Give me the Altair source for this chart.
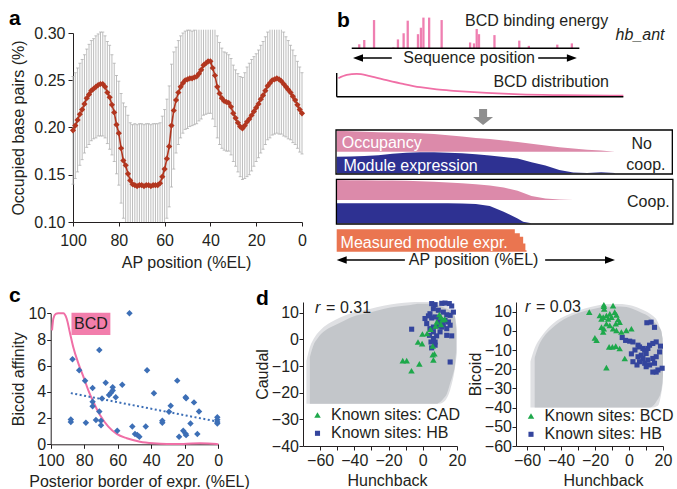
import altair as alt
import pandas as pd

FONT = "Liberation Sans"
INK = "#231f20"
W, H = 677, 489

# ================= panel a : occupied base pairs along AP axis =================
a_pos = list(range(100, -1, -1))
a_mean = [
    0.197, 0.202, 0.208, 0.214, 0.219, 0.225, 0.231, 0.235, 0.239, 0.241,
    0.243, 0.245, 0.246, 0.246, 0.243, 0.237, 0.232, 0.224, 0.216, 0.203,
    0.194, 0.178, 0.165, 0.160, 0.151, 0.144, 0.140, 0.139, 0.138, 0.139,
    0.139, 0.138, 0.139, 0.139, 0.138, 0.139, 0.139, 0.139, 0.141, 0.148,
    0.156, 0.167, 0.180, 0.202, 0.218, 0.229, 0.237, 0.243, 0.247, 0.250,
    0.251, 0.252, 0.252, 0.253, 0.254, 0.257, 0.261, 0.266, 0.268, 0.270,
    0.270, 0.263, 0.255, 0.243, 0.236, 0.231, 0.228, 0.227, 0.226, 0.222,
    0.215, 0.210, 0.205, 0.201, 0.199, 0.202, 0.206, 0.209, 0.213, 0.217,
    0.221, 0.225, 0.230, 0.234, 0.239, 0.244, 0.247, 0.250, 0.251, 0.252,
    0.251, 0.249, 0.246, 0.243, 0.240, 0.237, 0.233, 0.229, 0.224, 0.219,
    0.215]
a_sd = [
    0.057, 0.056, 0.055, 0.054, 0.053, 0.052, 0.052, 0.053, 0.053, 0.053,
    0.054, 0.054, 0.055, 0.055, 0.054, 0.054, 0.055, 0.053, 0.052, 0.052,
    0.055, 0.058, 0.061, 0.062, 0.062, 0.061, 0.063, 0.065, 0.065, 0.065,
    0.065, 0.065, 0.065, 0.065, 0.065, 0.065, 0.065, 0.065, 0.064, 0.064,
    0.063, 0.063, 0.064, 0.065, 0.062, 0.056, 0.055, 0.054, 0.053, 0.052,
    0.052, 0.051, 0.050, 0.050, 0.050, 0.050, 0.052, 0.053, 0.054, 0.055,
    0.055, 0.054, 0.054, 0.054, 0.054, 0.053, 0.052, 0.052, 0.051, 0.051,
    0.051, 0.051, 0.052, 0.053, 0.054, 0.056, 0.058, 0.059, 0.059, 0.058,
    0.057, 0.057, 0.057, 0.057, 0.057, 0.057, 0.058, 0.058, 0.058, 0.058,
    0.058, 0.056, 0.055, 0.053, 0.052, 0.050, 0.049, 0.047, 0.046, 0.045,
    0.043]

# ================= panel b : hb_ant schematic =================
seq_pos = [3.3, 5.5, 9.8, 18.3, 20.3, 22.8, 24.6, 29.1, 30.4, 31.5, 34.0,
           39.5, 52.0, 53.7, 54.9, 55.9, 62.7, 73.6, 77.8, 90.3, 96.7]
seq_energy = [1.3, 2.7, 9.2, 0.3, 2.9, 4.9, 9.0, 4.6, 6.7, 10.0, 10.0,
              9.2, 1.9, 1.6, 6.3, 4.6, 4.3, 2.5, 0.8, 1.2, 1.6]
bcd_ap = [0.6, 3.5, 7.0, 11.6, 17.4, 23.2, 29.1, 34.9, 40.7, 46.5, 52.3,
          58.1, 63.9, 75.6, 87.2, 100.0]
bcd_level = [0.78, 0.92, 0.96, 0.87, 0.70, 0.54, 0.40, 0.31, 0.25, 0.20, 0.16,
             0.13, 0.10, 0.07, 0.06, 0.04]
prof_ap = [0, 5, 10, 15, 20, 25, 30, 35, 40, 45, 50, 55, 60, 65, 70, 75, 80,
           85, 90, 95, 100]
occ_nocoop = [0.96, 0.94, 0.92, 0.90, 0.88, 0.87, 0.85, 0.82, 0.76, 0.70, 0.63,
              0.58, 0.52, 0.45, 0.37, 0.28, 0.21, 0.15, 0.09, 0.05, 0.0]
expr_nocoop = [0.79, 0.80, 0.82, 0.86, 0.93, 0.98, 1.0, 1.0, 0.98, 0.95, 0.91,
               0.85, 0.78, 0.70, 0.53, 0.37, 0.16, 0.04, 0.02, 0.05, 0.02]
occ_coop_ap = [0, 5, 10, 15, 20, 25, 30, 35, 40, 45, 50, 55, 60, 65, 70, 75, 80, 85]
occ_coop = [1.0, 0.99, 0.99, 0.98, 0.97, 0.96, 0.94, 0.91, 0.88, 0.84, 0.79,
            0.73, 0.62, 0.46, 0.20, 0.07, 0.03, 0.0]
expr_coop_ap = [0, 5, 10, 15, 20, 25, 30, 35, 40, 45, 50, 55, 60, 65, 67, 70]
expr_coop = [1.0, 1.0, 1.0, 1.0, 1.0, 1.0, 1.0, 1.0, 1.0, 0.99, 0.97, 0.87,
             0.58, 0.24, 0.08, 0.0]
meas_ap = [0, 62.9, 64.0, 65.8, 67.0, 67.8, 68.2]
meas_expr = [1.0, 1.0, 0.82, 0.67, 0.37, 0.07, 0.0]

# ================= panel c : affinity vs posterior border =================
c_border = [53, 87, 83, 71, 79.5, 75, 75, 75, 88, 88, 79, 73, 71, 70, 70, 69.4,
            67.2, 65.2, 64, 63, 63, 61.2, 60.3, 57.3, 51.3, 49.7, 48.3, 47.1,
            42.5, 43.3, 38.4, 33.4, 33.4, 28.4, 29.4, 24.5, 23.4, 19.5, 19.2,
            20.9, 19.5, 19.2, 14.5, 16.6, 11.5, 12.5, 0.6, 0.6, 0.6, 0.6]
c_affinity = [10.0, 6.5, 5.65, 7.2, 4.85, 4.3, 3.25, 2.9, 1.9, 1.7, 1.65, 1.85,
              2.5, 1.45, 1.8, 3.5, 4.7, 3.76, 3.94, 4.35, 4.1, 3.59, 1.04, 4.55,
              1.35, 0.79, 0.71, 0.58, 5.65, 1.35, 3.89, 1.8, 1.65, 2.95, 2.49,
              4.86, 0.58, 3.59, 3.52, 1.04, 0.8, 0.7, 3.2, 1.58, 2.5, 0.79, 2.07,
              1.87, 1.7, 1.58]
c_bcd_x = [99.2, 98.4, 97.0, 95.5, 92.5, 90.5, 88.5, 86.6, 83.5, 80.5, 77.6,
           74.6, 70.6, 65.6, 60.6, 54.6, 46.7, 38.8, 30.8, 20.8, 10.9, 1.0, 0.0]
c_bcd_y = [8.7, 9.6, 9.95, 10.0, 10.0, 9.6, 8.5, 7.45, 6.18, 5.16, 4.14, 3.25,
           2.24, 1.35, 0.79, 0.46, 0.2, 0.08, 0.03, 0.03, 0.08, 0.03, 0.0]

# ================= panel d : Hunchback vs Caudal / Bicoid scores =================
# dense core of the genome-wide score cloud
d1_cloud_hb = [-66, -64, -61, -57, -52, -46, -39, -31, -23, -15, -7, -2, 4, 8,
               10, 12, 14, 16, 17.5, 18.9, 19.5]
d1_cloud_lo = [-24.2, -24.2, -24.2, -24.2, -24.2, -24.2, -24.2, -24.2, -24.2,
               -24.2, -24.2, -24.2, -24.2, -24.2, -23.6, -22.3, -20.5, -16.5,
               -13.5, -9.2, -4.0]
d1_cloud_hi = [-6.7, -2.4, 0.8, 3.3, 5.1, 7.0, 8.9, 10.1, 11.4, 12.3, 12.9,
               13.3, 13.3, 13.0, 12.6, 12.0, 11.5, 10.8, 9.8, 8.3, 3.3]
# sparse outer fringe of the cloud
d1_fringe_hb = [-68, -66, -63, -59, -54, -48, -40, -31, -23, -15, -7, -2, 4, 9,
                13, 16, 18.5, 20]
d1_fringe_lo = [-24.2, -24.2, -24.2, -24.2, -24.2, -24.2, -24.2, -24.2, -24.2,
                -24.2, -24.2, -24.2, -24.2, -24.2, -23.0, -19.0, -12.0, -5.0]
d1_fringe_hi = [-8.0, -3.0, 1.0, 4.0, 6.3, 8.3, 10.2, 11.4, 12.6, 13.4, 13.9,
                14.0, 14.0, 13.9, 12.8, 11.5, 9.0, 4.0]
d1_cad_hb = [-11.7, -9.4, -6.6, -2.0, -2.8, -0.4, -0.2, 2.5, 4.5, 5.8, 6.8, 5.8,
             6.2, 8.2, 7.5, 9.7, 10.5, 11.5, 12.8, 10.6]
d1_cad_cdx = [-8.0, -8.0, -11.8, -9.2, -1.0, -1.6, 2.0, 2.2, 3.8, -2.5, -5.4,
              -5.8, -7.7, 6.5, 5.0, 9.3, 8.4, 7.4, 7.6, 5.6]
d1_hb_hb = [5.2, 7.2, 11.1, 13.0, 15.5, 16.9, 17.9, 16.0, 14.0, 12.0, 9.1, 6.2,
            4.2, 3.3, 5.2, 7.2, 9.7, 13.0, 15.0, 16.0, 12.0, 9.1, 6.2, 4.2, 2.3,
            -6.5, 6.2, 10.1, 8.1, 14.0, 16.9, 6.2, 7.2, 5.2, 7.2, 16.0, 9.1, 1.3,
            11.1, 14.0, 3.9, 4.8]
d1_hb_cdx = [13.4, 13.0, 13.5, 13.6, 13.4, 12.5, 10.2, 9.0, 9.2, 10.2, 10.9,
             11.5, 9.6, 8.8, 8.0, 8.4, 7.8, 7.1, 6.5, 5.3, 5.5, 5.0, 4.6, 4.0,
             5.9, 3.8, 2.8, 2.8, 1.3, 1.5, 1.3, 0.3, -1.0, -3.2, -2.2, -8.5,
             6.5, 7.8, 4.6, 4.0, 1.5, -1.0]

d2_cloud_hb = [-55.5, -53, -50, -46, -41, -36, -29, -21, -13, -5, 2, 7, 12, 16,
               19, 20]
d2_cloud_lo = [-40, -40, -40, -40, -40, -40, -40, -40, -40, -40, -40, -40, -40,
               -37, -31, -23]
d2_cloud_hi = [-14, -7.5, -3, 0.8, 4.5, 7, 9.5, 11.3, 12.5, 12.6, 11.5, 9.5,
               7.2, 3.5, 0, -8]
d2_fringe_hb = [-58, -55.5, -52, -48, -43, -37, -30, -22, -14, -6, 2, 8, 13, 17,
                20]
d2_fringe_lo = [-40, -40, -40, -40, -40, -40, -40, -40, -40, -40, -40, -40, -40,
                -39, -27]
d2_fringe_hi = [-16, -9, -3.5, 1, 5, 8, 10.5, 12.5, 13.8, 14, 13, 11, 8.5, 4.5,
                -4]
d2_bcd_hb = [-23.4, -14.8, -14.8, -14.6, -9.4, -17.2, -16.2, -15.2, -13.3, -12.3,
             -11.3, -10.3, -8.4, -7.4, -6.4, -5.5, -7.8, -11.3, -13.3, -16.2,
             -14.8, -9.4, -7.4, -4.5, -1.6, 1.4, -15.2, -20.1, -19.1, -11.7,
             -9.8, -7.8, -5.5, -2.5, -13.3]
d2_bcd_bcd = [9.7, 13.6, 12.8, 11.4, 13.1, 8.0, 6.2, 7.1, 8.0, 6.2, 8.8, 7.1,
              9.7, 8.3, 5.9, 4.5, 3.7, 2.8, 3.7, 1.9, 1.1, 1.1, 0.2, -0.6, 0.2,
              1.1, -0.6, -3.7, -4.9, -8.4, -8.4, -8.0, -9.2, -14.4, -19.2]
d2_hb_hb = [10.5, 13.0, 15.0, 0.4, 2.3, 5.3, 6.2, 8.2, 9.2, 11.1, 12.1, 14.0,
            16.0, 10.1, 7.2, 5.3, 8.2, 11.1, 14.0, 16.0, 6.2, 9.2, 12.1, 15.0,
            17.0, 2.3, 4.7, 10.1, 16.0, 19.5, 14.0, -4.0, -2.0, 1.4, 3.5, 18.0,
            18.5]
d2_hb_bcd = [4.2, 4.5, 1.8, -5.4, -5.8, -7.5, -8.4, -9.2, -10.1, -9.2, -7.5,
             -6.6, -5.8, -11.8, -12.7, -13.5, -14.4, -15.2, -14.4, -13.5, -16.1,
             -16.9, -17.8, -16.9, -20.4, -16.1, -17.8, -18.7, -21.5, -19.5,
             -21.5, -3.5, -5.0, -12.0, -10.0, -11.0, -8.0]

# ---------------- colours ----------------
RED = "#b2361f"
ERR = "#bdbdbd"
PINK_BAR = "#ef7fb1"
PINK_LINE = "#f06fa6"
PINK_BOX = "#f27eac"
OCC = "#dc8aaa"
NAVY = "#2e3192"
ORANGE = "#ea7550"
CBLUE = "#3d6fb6"
GREEN = "#1ea84b"
SQBLUE = "#34459d"
CLOUD = "#c3c6ca"
FRINGE = "#dfe0e3"


def x_axis(axis_px, title, values, title_x, label_off, title_off, tick=4, expr=None):
    kw = dict(orient="bottom", offset=axis_px - H, values=values, title=title,
              tickSize=tick, labelPadding=label_off - tick,
              labelBaseline="alphabetic", titleBaseline="alphabetic",
              titleY=title_off, titleX=title_x, labelFlush=False,
              labelOverlap=False)
    if expr:
        kw["labelExpr"] = expr
    return alt.Axis(**kw)


def y_axis(axis_px, title, values, title_x, label_pad, tick=4, fmt=None):
    kw = dict(orient="left", offset=-axis_px, values=values, title=title,
              tickSize=tick, labelPadding=label_pad, titleX=title_x,
              titleBaseline="middle", labelFlush=False, labelOverlap=False)
    if fmt:
        kw["format"] = fmt
    return alt.Axis(**kw)


# ================= build panel a =================
dfa = pd.DataFrame({"pos": a_pos, "mean": a_mean, "sd": a_sd})
dfa["hi_raw"] = dfa["mean"] + dfa["sd"]
dfa["lo_raw"] = dfa["mean"] - dfa["sd"]
dfa["hi"] = dfa["hi_raw"].clip(upper=0.3035)
dfa["lo"] = dfa["lo_raw"].clip(lower=0.10)

xa = alt.Scale(domain=[0, 100], range=[302, 73], nice=False, zero=False)
ya = alt.Scale(domain=[0.10, 0.30], range=[222, 33], nice=False, zero=False)
ax_a_x = x_axis(222, "AP position (%EL)", [0, 20, 40, 60, 80, 100], 186, 23, 45)
ax_a_y = y_axis(73, "Occupied base pairs (%)", [0.10, 0.15, 0.20, 0.25, 0.30],
                -54.5, 3, tick=5, fmt=".2f")

XA = alt.X("pos:Q", scale=xa, axis=ax_a_x)
a_bars = alt.Chart(dfa).mark_rule(color=ERR, strokeWidth=1).encode(
    x=XA, y=alt.Y("lo:Q", scale=ya, axis=ax_a_y), y2="hi:Q")
a_cap_hi = alt.Chart(dfa[dfa["hi_raw"] <= 0.3035]).mark_tick(
    color="#a8a8a8", orient="horizontal", size=3, thickness=1).encode(
    x=XA, y=alt.Y("hi:Q", scale=ya, axis=ax_a_y))
a_cap_lo = alt.Chart(dfa[dfa["lo_raw"] >= 0.10]).mark_tick(
    color="#a8a8a8", orient="horizontal", size=3, thickness=1).encode(
    x=XA, y=alt.Y("lo:Q", scale=ya, axis=ax_a_y))
a_line = alt.Chart(dfa).mark_line(color=RED, strokeWidth=1.6).encode(
    x=XA, y=alt.Y("mean:Q", scale=ya, axis=ax_a_y))
a_pts = alt.Chart(dfa).mark_point(shape="diamond", filled=True, size=38,
                                  color=RED, opacity=1).encode(
    x=XA, y=alt.Y("mean:Q", scale=ya, axis=ax_a_y))
panel_a = alt.layer(a_bars, a_cap_hi, a_cap_lo, a_line, a_pts)

# ================= build panel b =================
BX = alt.Scale(domain=[0, 100], range=[336.7, 615.0], nice=False, zero=False)
BY = alt.Scale(domain=[0, 275], range=[0, 275], nice=False, zero=False)
bx = lambda f: alt.X(f"{f}:Q", scale=BX, axis=None)
by = lambda f: alt.Y(f"{f}:Q", scale=BY, axis=None)

SEQ_X0, SEQ_X1 = 5.4, 87.2        # diagram span of the enhancer sequence
E_BASE, E_PX = 48.3, 3.07         # baseline row and rows per energy unit
D_BASE, D_PX, D_X1 = 96.7, 23.7, 103.0
TRACKS = {"occ_nc": (151.7, 21.7), "expr_nc": (173.3, 21.0),
          "occ_c": (200.0, 20.0), "expr_c": (223.3, 20.0),
          "meas": (251.7, 22.4)}

dfe = pd.DataFrame({"pos": seq_pos, "energy": seq_energy})
dfe["bx"] = SEQ_X0 + dfe["pos"] * (SEQ_X1 - SEQ_X0) / 100
dfe["top"] = E_BASE - dfe["energy"] * E_PX
dfe["base"] = E_BASE
b_bars = alt.Chart(dfe).mark_rule(color=PINK_BAR, strokeWidth=2.3).encode(
    x=bx("bx"), y=by("top"), y2="base:Q")


def seg(x0, x1, y0, y1, color="black", width=1.4):
    return alt.Chart(pd.DataFrame({"x0": [x0], "x1": [x1], "y0": [y0], "y1": [y1]})
                     ).mark_rule(color=color, strokeWidth=width).encode(
        x=bx("x0"), x2="x1:Q", y=by("y0"), y2="y1:Q")


def head(x, y, path, size, color="black"):
    return alt.Chart(pd.DataFrame({"x": [x], "y": [y]})).mark_point(
        shape=path, size=size, filled=True, color=color, opacity=1,
        strokeWidth=0).encode(x=bx("x"), y=by("y"))


LEFT = "M -1 0 L 1 -0.75 L 1 0.75 Z"
RIGHT = "M 1 0 L -1 -0.75 L -1 0.75 Z"
DOWN = "M -1 -0.4 L 1 -0.4 L 0 0.4 Z"

b_base = seg(SEQ_X0, SEQ_X1, E_BASE, E_BASE)
b_seq_l = seg(7.65, 19.8, 58, 58, width=1.3)
b_seq_r = seg(72.4, 84.5, 58, 58, width=1.3)
b_seq_hl = head(7.65, 58, LEFT, 100)
b_seq_hr = head(84.5, 58, RIGHT, 100)

dfd = pd.DataFrame({"ap": bcd_ap, "level": bcd_level})
dfd["bx"] = dfd["ap"] * D_X1 / 100
dfd["row"] = D_BASE - dfd["level"] * D_PX
b_dist = alt.Chart(dfd).mark_line(color=PINK_LINE, strokeWidth=1.8,
                                   interpolate="monotone").encode(
    x=bx("bx"), y=by("row"))
b_dist_v = seg(0, 0, 73, D_BASE)
b_dist_h = seg(0, D_X1, D_BASE, D_BASE)

b_arrow_shaft = seg(52.6, 52.6, 109, 118, color="#8e8e8e", width=8)
b_arrow_head = head(52.6, 121, DOWN, 400, color="#8e8e8e")


def track(xs, vals, key, color, interp="linear"):
    base, h = TRACKS[key]
    df = pd.DataFrame({"ap": xs, "v": vals})
    df["top"] = base - df["v"] * h
    df["base"] = base
    return alt.Chart(df).mark_area(color=color, opacity=1, interpolate=interp
                                   ).encode(x=bx("ap"), y=by("top"), y2="base:Q")


b_t1 = track(prof_ap, occ_nocoop, "occ_nc", OCC)
b_t2 = track(prof_ap, expr_nocoop, "expr_nc", NAVY)
b_t3 = track(occ_coop_ap, occ_coop, "occ_c", OCC)
b_t4 = track(expr_coop_ap, expr_coop, "expr_c", NAVY)
b_t5 = track(meas_ap, meas_expr, "meas", ORANGE, interp="step-after")

dfbox = pd.DataFrame({"x0": [-0.25, -0.1], "x1": [120.6, 120.8],
                      "y0": [130.0, 179.3], "y1": [174.0, 224.0]})
b_boxes = alt.Chart(dfbox).mark_rect(fillOpacity=0, stroke="black",
                                     strokeWidth=1.3).encode(
    x=bx("x0"), x2="x1:Q", y=by("y0"), y2="y1:Q")

b_ap_l = seg(1.8, 24.5, 260, 260, width=1.3)
b_ap_r = seg(74.9, 98.2, 260, 260, width=1.3)
b_ap_hl = head(1.8, 260, LEFT, 100)
b_ap_hr = head(98.2, 260, RIGHT, 100)


def label(x, y, text, color=INK, align="left", style="normal", size=16):
    return alt.Chart(pd.DataFrame({"x": [x], "y": [y], "t": [text]})).mark_text(
        font=FONT, fontSize=size, color=color, align=align, baseline="middle",
        fontStyle=style).encode(x=bx("x"), y=by("y"), text="t:N")


b_texts = [
    label(46.1, 21, "BCD binding energy"),
    label(109, 35, "hb_ant", align="center", style="italic"),
    label(47.6, 58, "Sequence position", align="center"),
    label(56.3, 82, "BCD distribution"),
    label(1.8, 143, "Occupancy", color="white"),
    label(2.4, 165.5, "Module expression", color="white"),
    label(109.6, 144, "No", align="center"),
    label(111.1, 164.5, "coop.", align="center"),
    label(112.0, 202, "Coop.", align="center"),
    label(1.4, 242.5, "Measured module expr.", color="white"),
    label(49.2, 260, "AP position (%EL)", align="center"),
]
panel_b = alt.layer(b_bars, b_base, b_seq_l, b_seq_r, b_seq_hl, b_seq_hr,
                    b_dist, b_dist_v, b_dist_h, b_arrow_shaft, b_arrow_head,
                    b_t1, b_t2, b_t3, b_t4, b_t5, b_boxes,
                    b_ap_l, b_ap_r, b_ap_hl, b_ap_hr, *b_texts)

# ================= build panel c =================
xc = alt.Scale(domain=[0, 100], range=[218.3, 50.7], nice=False, zero=False)
yc = alt.Scale(domain=[0, 10], range=[444.3, 313.3], nice=False, zero=False)
ax_c_x = x_axis(444.3, "Posterior border of expr. (%EL)", [0, 20, 40, 60, 80, 100],
                139, 21, 42)
ax_c_y = y_axis(50.7, "Bicoid affinity", [0, 2, 4, 6, 8, 10], -32.4, 1)
XC = lambda f: alt.X(f"{f}:Q", scale=xc, axis=ax_c_x)
YC = lambda f: alt.Y(f"{f}:Q", scale=yc, axis=ax_c_y)

dfc = pd.DataFrame({"border": c_border, "affinity": c_affinity})
dfcb = pd.DataFrame({"border": c_bcd_x, "affinity": c_bcd_y})
c_curve = alt.Chart(dfcb).mark_line(color=PINK_LINE, strokeWidth=2,
                                    interpolate="monotone").encode(
    x=XC("border"), y=YC("affinity"))
c_reg = alt.Chart(dfc).transform_regression("border", "affinity").mark_line(
    color=CBLUE, strokeWidth=2, strokeDash=[2, 2.5]).encode(
    x=XC("border"), y=YC("affinity"))
c_pts = alt.Chart(dfc).mark_point(shape="diamond", filled=True, size=42,
                                  color=CBLUE, opacity=1).encode(
    x=XC("border"), y=YC("affinity"))
c_box = alt.Chart(pd.DataFrame({"x0": [87.6], "x1": [64.4], "y0": [8.35],
                                "y1": [10.05]})).mark_rect(color=PINK_BOX).encode(
    x=XC("x0"), x2="x1:Q", y=YC("y0"), y2="y1:Q")
c_box_t = alt.Chart(pd.DataFrame({"x": [76.0], "y": [9.2], "t": ["BCD"]})).mark_text(
    font=FONT, fontSize=16, color=INK, align="center", baseline="middle").encode(
    x=XC("x"), y=YC("y"), text="t:N")
panel_c = alt.layer(c_curve, c_reg, c_pts, c_box, c_box_t)

# ================= build panel d =================
TICKS10 = [-60, -50, -40, -30, -20, -10, 0, 10, 20]
EXPR20 = "datum.value % 20 === 0 ? datum.label : ''"


def panel_d(x_rng, x_dom, y_dom, y_ticks, ytitle, ytitle_x, xtitle_x,
            fringe, cloud, sites, site_names, r_text, r_pos, legend_xy):
    xs = alt.Scale(domain=x_dom, range=x_rng, nice=False, zero=False)
    ys = alt.Scale(domain=y_dom, range=[446, 302], nice=False, zero=False)
    axx = x_axis(446, "Hunchback", TICKS10, xtitle_x, 19, 39, expr=EXPR20)
    axy = y_axis(x_rng[0], ytitle, y_ticks, ytitle_x, 0.5)
    X = lambda f: alt.X(f"{f}:Q", scale=xs, axis=axx)
    Y = lambda f: alt.Y(f"{f}:Q", scale=ys, axis=axy)
    dfr = pd.DataFrame({"hb": fringe[0], "lo": fringe[1], "hi": fringe[2]})
    fr = alt.Chart(dfr).mark_area(color=FRINGE, opacity=1,
                                  interpolate="monotone").encode(
        x=X("hb"), y=Y("lo"), y2="hi:Q")
    dcl = pd.DataFrame({"hb": cloud[0], "lo": cloud[1], "hi": cloud[2]})
    cl = alt.Chart(dcl).mark_area(color=CLOUD, opacity=1,
                                  interpolate="monotone").encode(
        x=X("hb"), y=Y("lo"), y2="hi:Q")
    (g_x, g_y), (b_x, b_y) = sites
    dp = pd.DataFrame({
        "hb": list(b_x) + list(g_x), "v": list(b_y) + list(g_y),
        "site": [site_names[1]] * len(b_x) + [site_names[0]] * len(g_x)})
    leg = alt.Legend(orient="none", legendX=legend_xy[0], legendY=legend_xy[1],
                     title=None, labelFont=FONT, labelFontSize=16,
                     labelColor=INK, symbolSize=55, symbolStrokeWidth=0,
                     padding=0, rowPadding=2.3, labelOffset=5.5, labelLimit=300)
    pts = alt.Chart(dp).mark_point(filled=True, opacity=1, strokeWidth=0).encode(
        x=X("hb"), y=Y("v"),
        color=alt.Color("site:N", scale=alt.Scale(domain=site_names,
                                                  range=[GREEN, SQBLUE]),
                        legend=leg),
        shape=alt.Shape("site:N", scale=alt.Scale(domain=site_names,
                                                  range=["triangle-up", "square"]),
                        legend=leg),
        size=alt.Size("site:N", scale=alt.Scale(domain=site_names, range=[42, 26]),
                      legend=None))
    dr = pd.DataFrame({"hb": [r_pos[0]], "v": [r_pos[2]], "t": ["r"]})
    dq = pd.DataFrame({"hb": [r_pos[1]], "v": [r_pos[2]], "t": [r_text]})
    rt = alt.Chart(dr).mark_text(font=FONT, fontSize=16, fontStyle="italic",
                                 color=INK, align="left", baseline="middle").encode(
        x=X("hb"), y=Y("v"), text="t:N")
    qt = alt.Chart(dq).mark_text(font=FONT, fontSize=16, color=INK, align="left",
                                 baseline="middle").encode(
        x=X("hb"), y=Y("v"), text="t:N")
    return alt.layer(fr, cl, pts, rt, qt)


panel_d1 = panel_d([303, 457], [-70, 20], [-40, 14],
                   [-40, -30, -20, -10, 0, 10], "Caudal", -40.5, 387,
                   (d1_fringe_hb, d1_fringe_lo, d1_fringe_hi),
                   (d1_cloud_hb, d1_cloud_lo, d1_cloud_hi),
                   ((d1_cad_hb, d1_cad_cdx), (d1_hb_hb, d1_hb_cdx)),
                   ["Known sites: CAD", "Known sites: HB"],
                   "= 0.31", (-63.0, -56.5, 11.9), (309.5, 407))
panel_d2 = panel_d([516, 663], [-66.5, 20], [-60, 15],
                   [-60, -50, -40, -30, -20, -10, 0, 10], "Bicoid", -40.2, 603,
                   (d2_fringe_hb, d2_fringe_lo, d2_fringe_hi),
                   (d2_cloud_hb, d2_cloud_lo, d2_cloud_hi),
                   ((d2_bcd_hb, d2_bcd_bcd), (d2_hb_hb, d2_hb_bcd)),
                   ["Known sites: BCD", "Known sites: HB"],
                   "= 0.03", (-61.2, -54.8, 12.4), (523, 408))

# ================= panel letters =================
def letter(ch, px, py):
    return alt.Chart(pd.DataFrame({"t": [ch]})).mark_text(
        font=FONT, fontSize=21, fontWeight="bold", color="black", align="left",
        baseline="alphabetic").encode(x=alt.value(px), y=alt.value(py), text="t:N")


letters = alt.layer(letter("a", 9, 25), letter("b", 337, 27),
                    letter("c", 9, 302), letter("d", 256, 305))

chart = alt.layer(panel_a, panel_b, panel_c, panel_d1, panel_d2, letters).resolve_scale(
    x="independent", y="independent", color="independent", shape="independent",
    size="independent").resolve_axis(x="independent", y="independent").resolve_legend(
    color="independent", shape="independent").properties(
    width=W, height=H, autosize=alt.AutoSizeParams(type="none"), padding=0,
    background="white").configure_axis(
    labelFont=FONT, titleFont=FONT, labelFontSize=16, titleFontSize=16,
    labelColor=INK, titleColor=INK, domainColor=INK, tickColor=INK,
    grid=False, titleFontWeight="normal", domainWidth=1, tickWidth=1).configure_view(
    stroke=None)

chart.save("out.html", embed_options={"renderer": "svg", "actions": False})
